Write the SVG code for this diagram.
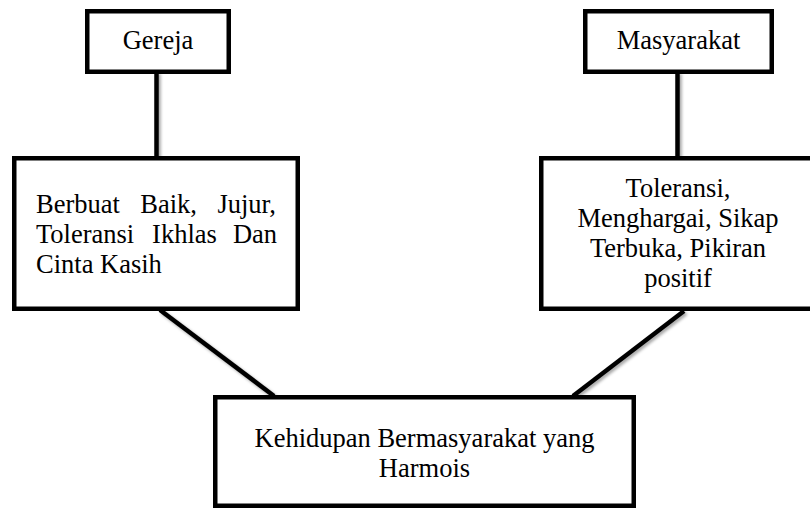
<svg xmlns="http://www.w3.org/2000/svg" width="810" height="509" viewBox="0 0 810 509">
  <style>
    .box { fill: #ffffff; stroke: #000000; stroke-width: 4.5; }
    .conn { stroke: #000000; stroke-width: 4.5; fill: none; }
    text { font-family: "Liberation Serif", "Times New Roman", serif; font-size: 26.5px; fill: #000000; }
    .c { text-anchor: middle; }
  </style>
  <defs>
    <filter id="shadow" x="-20%" y="-20%" width="140%" height="140%">
      <feDropShadow dx="2" dy="2" stdDeviation="1.5" flood-color="#000000" flood-opacity="0.35"/>
    </filter>
  </defs>
  <rect x="0" y="0" width="810" height="509" fill="#ffffff"/>
  <g id="connectors" filter="url(#shadow)">
    <line class="conn" x1="156.5" y1="72" x2="156.5" y2="159"/>
    <line class="conn" x1="677.5" y1="72" x2="677.5" y2="159"/>
    <line class="conn" x1="160" y1="310" x2="274" y2="396"/>
    <line class="conn" x1="684" y1="311" x2="573" y2="396"/>
  </g>
  <g id="gereja">
    <rect class="box" x="87.25" y="11.25" width="141.5" height="60.5"/>
    <text class="c" x="158" y="49">Gereja</text>
  </g>
  <g id="masyarakat">
    <rect class="box" x="585.25" y="11.25" width="186.5" height="60.5"/>
    <text class="c" x="678.5" y="49">Masyarakat</text>
  </g>
  <g id="nilai-gereja">
    <rect class="box" x="14.25" y="158.25" width="283.5" height="150.5"/>
    <text y="213"><tspan x="36">Berbuat</tspan><tspan x="140.3">Baik,</tspan><tspan x="217.4">Jujur,</tspan></text>
    <text y="243"><tspan x="36">Toleransi</tspan><tspan x="152.1">Ikhlas</tspan><tspan x="232.9">Dan</tspan></text>
    <text x="36" y="273">Cinta Kasih</text>
  </g>
  <g id="nilai-masyarakat">
    <rect class="box" x="541.25" y="158.25" width="285" height="150.5"/>
    <text class="c" x="678" y="197">Toleransi,</text>
    <text class="c" x="678" y="227">Menghargai, Sikap</text>
    <text class="c" x="678" y="257">Terbuka, Pikiran</text>
    <text class="c" x="678" y="287">positif</text>
  </g>
  <g id="kehidupan">
    <rect class="box" x="215.25" y="397.25" width="418.5" height="108.5"/>
    <text class="c" x="424.5" y="447">Kehidupan Bermasyarakat yang</text>
    <text class="c" x="424.5" y="477">Harmois</text>
  </g>
</svg>
